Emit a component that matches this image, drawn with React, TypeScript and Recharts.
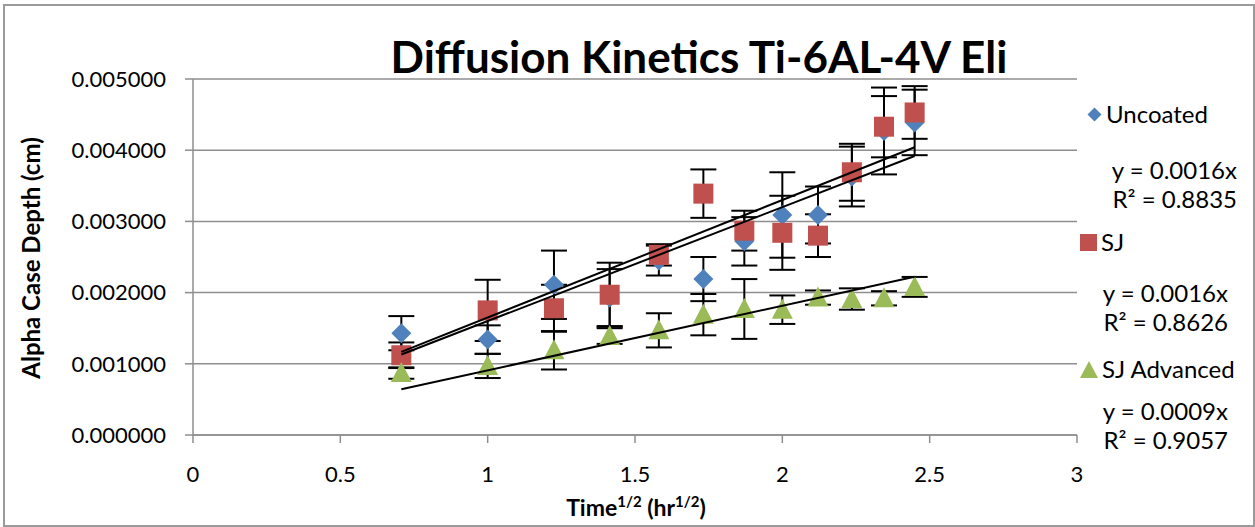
import {
  ScatterChart,
  Scatter,
  XAxis,
  YAxis,
  CartesianGrid,
  ErrorBar
} from 'recharts';

// ---------- data ----------

const timeRoot = [0.707, 1, 1.225, 1.414, 1.581, 1.732, 1.871, 2, 2.121, 2.236, 2.345, 2.449];

const uncoatedDepth = [0.00143, 0.00134, 0.00211, 0.00193, 0.00245, 0.00219, 0.00272, 0.00309, 0.00309, 0.00363, 0.00427, 0.00439];
const uncoatedError = [0.00024, 0.0002, 0.00048, 0.0004, 0.00021, 0.00031, 0.00034, 0.0006, 0.0004, 0.00042, 0.00061, 0.00046];

const sjDepth = [0.00112, 0.00175, 0.00178, 0.00197, 0.00253, 0.00339, 0.00287, 0.00284, 0.0028, 0.00369, 0.00433, 0.00453];
const sjError = [0.00018, 0.00043, 0.00033, 0.00045, 0.00015, 0.00034, 0.00028, 0.00052, 0.0003, 0.0004, 0.00043, 0.00037];

const advDepth = [0.00087, 0.00097, 0.00119, 0.00139, 0.00147, 0.00169, 0.00177, 0.00176, 0.00193, 0.00191, 0.00192, 0.00208];
const advError = [0.00008, 0.00017, 0.00027, 0.00011, 0.00024, 0.00029, 0.00042, 0.0002, 0.0001, 0.00015, 0.0001, 0.00014];

// linear trendlines through the origin (slopes as drawn)
const trendSlopes = [0.00165, 0.0016, 0.000908];
const equationLabels = ['y = 0.0016x', 'y = 0.0016x', 'y = 0.0009x'];
const r2Labels = ['R² = 0.8835', 'R² = 0.8626', 'R² = 0.9057'];

const seriesNames = ['Uncoated', 'SJ', 'SJ Advanced'];
const seriesColors = ['#4F81BD', '#C0504D', '#9BBB59'];

const xTicks = [0, 0.5, 1, 1.5, 2, 2.5, 3];
const yTicks = [0, 0.001, 0.002, 0.003, 0.004, 0.005];

// ---------- helpers ----------

const FONT = 'Lato, "Noto Sans", sans-serif';

const toPoints = (ys: number[], errs: number[]) =>
  timeRoot.map((x, i) => ({ x, y: ys[i], err: errs[i] }));

const trendPoints = (slope: number) => {
  const first = timeRoot[0];
  const last = timeRoot[timeRoot.length - 1];
  return [
    { x: first, y: slope * first },
    { x: last, y: slope * last }
  ];
};

const Diamond = (props: any) => {
  const { cx, cy } = props;
  const r = 10;
  return (
    <path
      d={`M${cx},${cy - r}L${cx + r},${cy}L${cx},${cy + r}L${cx - r},${cy}Z`}
      fill={seriesColors[0]}
    />
  );
};

const Square = (props: any) => {
  const { cx, cy } = props;
  return <rect x={cx - 10} y={cy - 10} width={20} height={20} fill={seriesColors[1]} />;
};

const Triangle = (props: any) => {
  const { cx, cy } = props;
  return (
    <path
      d={`M${cx},${cy - 11}L${cx + 10.5},${cy + 9}L${cx - 10.5},${cy + 9}Z`}
      fill={seriesColors[2]}
    />
  );
};

const NoDot = () => <g />;

const legendMarkers = [
  <svg width={15} height={15} key="d"><path d="M7.5,0.5L14.5,7.5L7.5,14.5L0.5,7.5Z" fill={seriesColors[0]} /></svg>,
  <svg width={17} height={17} key="s"><rect x={0} y={0} width={17} height={17} fill={seriesColors[1]} /></svg>,
  <svg width={18} height={17} key="t"><path d="M9,0L18,17L0,17Z" fill={seriesColors[2]} /></svg>
];

// rows of the right-hand legend, top offsets inside the block
const legendRowTop = [4, 132, 259];
const eqRowTop = [60, 183, 301];
const eqRight = [18, 27, 27];

function LegendBlock() {
  return (
    <div style={{ position: 'absolute', left: 1080, top: 95, width: 175, height: 380, fontFamily: FONT, fontSize: 24, color: '#000' }}>
      {seriesNames.map((name, i) => (
        <div key={name}>
          <div style={{ position: 'absolute', left: i === 0 ? 7 : 0, top: legendRowTop[i], display: 'flex', alignItems: 'center', gap: 4, whiteSpace: 'nowrap', lineHeight: '30px' }}>
            {legendMarkers[i]}
            <span>{name}</span>
          </div>
          <div style={{ position: 'absolute', right: eqRight[i], top: eqRowTop[i], textAlign: 'right', whiteSpace: 'nowrap', lineHeight: '29px' }}>
            <div>{equationLabels[i]}</div>
            <div>{r2Labels[i]}</div>
          </div>
        </div>
      ))}
    </div>
  );
}

export default function App() {
  const seriesData = [
    toPoints(uncoatedDepth, uncoatedError),
    toPoints(sjDepth, sjError),
    toPoints(advDepth, advError)
  ];
  const shapes = [Diamond, Square, Triangle];

  return (
    <div style={{ position: 'absolute', left: 0, top: 0, width: 1255, height: 527, background: '#fff' }}>
      <div style={{ position: 'absolute', left: 3, top: 4, width: 1248, height: 519, border: '2px solid #9a9a9a' }} />

      <div style={{ position: 'absolute', left: 0, top: 0 }}>
        <ScatterChart
          width={1255}
          height={527}
          margin={{ top: 79, right: 178, bottom: 0, left: 73 }}
        >
          <CartesianGrid vertical={false} stroke="#8e8e8e" strokeWidth={1.5} />

          <XAxis
            type="number"
            dataKey="x"
            domain={[0, 3]}
            ticks={xTicks}
            tickSize={8}
            tickMargin={23}
            axisLine={{ stroke: '#8e8e8e', strokeWidth: 1.5 }}
            tickLine={{ stroke: '#8e8e8e', strokeWidth: 1.5 }}
            tick={{ fill: '#000', fontSize: 22, fontFamily: FONT }}
            height={92}
            allowDataOverflow
          />

          <YAxis
            type="number"
            dataKey="y"
            domain={[0, 0.005]}
            ticks={yTicks}
            tickFormatter={(v: number) => v.toFixed(6)}
            tickSize={8}
            tickMargin={19}
            width={120}
            axisLine={{ stroke: '#8e8e8e', strokeWidth: 1.5 }}
            tickLine={{ stroke: '#8e8e8e', strokeWidth: 1.5 }}
            tick={{ fill: '#000', fontSize: 22, fontFamily: FONT }}
            allowDataOverflow
          />

          {/* error bars first, so the markers sit on top of them */}
          {seriesData.map((data, i) => (
            <Scatter
              key={'err' + i}
              data={data}
              shape={NoDot}
              legendType="none"
              isAnimationActive={false}
            >
              <ErrorBar dataKey="err" direction="y" width={13} strokeWidth={2} stroke="#000" />
            </Scatter>
          ))}

          {seriesData.map((data, i) => (
            <Scatter
              key={seriesNames[i]}
              name={seriesNames[i]}
              data={data}
              fill={seriesColors[i]}
              shape={shapes[i]}
              isAnimationActive={false}
            />
          ))}

          {trendSlopes.map((slope, i) => (
            <Scatter
              key={'trend' + i}
              data={trendPoints(slope)}
              line={{ stroke: '#000', strokeWidth: 2 }}
              shape={NoDot}
              legendType="none"
              isAnimationActive={false}
            />
          ))}
        </ScatterChart>
      </div>

      <LegendBlock />

      <svg
        width={1255}
        height={527}
        style={{ position: 'absolute', left: 0, top: 0, pointerEvents: 'none' }}
      >
        <text x={699} y={73} textAnchor="middle" fontFamily={FONT} fontWeight={700} fontSize={44} fill="#000">
          Diffusion Kinetics Ti-6AL-4V Eli
        </text>
        <text
          x={0}
          y={0}
          transform="translate(40,258) rotate(-90)"
          textAnchor="middle"
          fontFamily={FONT}
          fontWeight={700}
          fontSize={24}
          fill="#000"
        >
          Alpha Case Depth (cm)
        </text>
        <text x={636} y={516} textAnchor="middle" fontFamily={FONT} fontWeight={700} fontSize={23} fill="#000">
          Time<tspan fontSize={15} dy={-9}>1/2</tspan>
          <tspan dy={9}> (hr</tspan>
          <tspan fontSize={15} dy={-9}>1/2</tspan>
          <tspan dy={9}>)</tspan>
        </text>
      </svg>
    </div>
  );
}
